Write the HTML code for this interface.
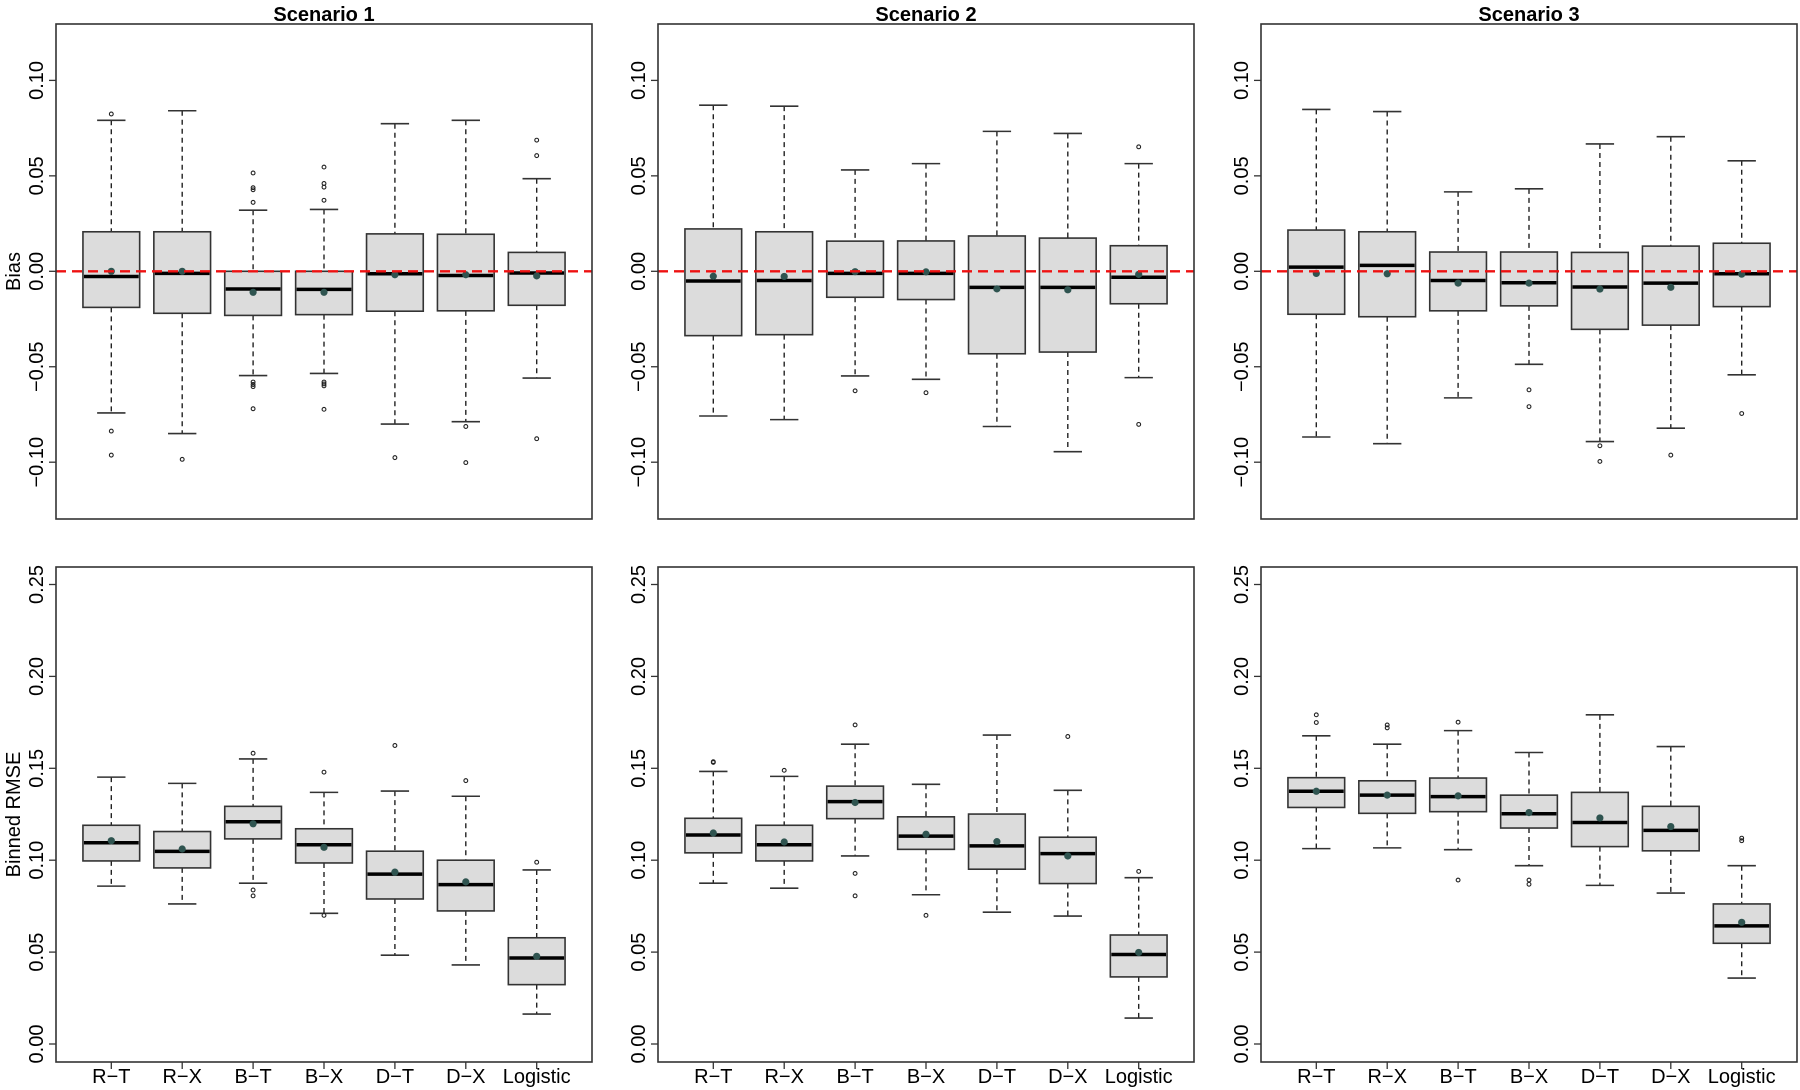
<!DOCTYPE html>
<html><head><meta charset="utf-8">
<style>
html,body{margin:0;padding:0;background:#fff;}
svg{display:block;font-family:"Liberation Sans",Arial,sans-serif;}
</style></head>
<body>
<svg id="chart" width="1800" height="1090" viewBox="0 0 1800 1090" xmlns="http://www.w3.org/2000/svg"></svg>
<script>
const categories = ["R−T","R−X","B−T","B−X","D−T","D−X","Logistic"];
const scenarioTitles = ["Scenario 1","Scenario 2","Scenario 3"];
const biasTicks = [-0.10,-0.05,0.00,0.05,0.10];
const biasTickLabels = ["−0.10","−0.05","0.00","0.05","0.10"];
const rmseTicks = [0.00,0.05,0.10,0.15,0.20,0.25];
const rmseTickLabels = ["0.00","0.05","0.10","0.15","0.20","0.25"];

// Bias, Scenario 1
const bias1Low   = [-0.0742,-0.085,-0.0546,-0.0535,-0.080,-0.0788,-0.0559];
const bias1Q1    = [-0.0189,-0.022,-0.0231,-0.0227,-0.0209,-0.0207,-0.0178];
const bias1Med   = [-0.0027,-0.0011,-0.0093,-0.0095,-0.0013,-0.0022,-0.0009];
const bias1Q3    = [0.0207,0.0207,0.0,0.0,0.0196,0.0194,0.0099];
const bias1High  = [0.0791,0.0841,0.032,0.0324,0.0773,0.0791,0.0485];
const bias1Mean  = [0.0,0.0,-0.011,-0.011,-0.0018,-0.0018,-0.0024];
const bias1Out   = [[0.0824,-0.0837,-0.0963],[-0.0985],[0.0515,0.0438,0.0427,0.0361,-0.058,-0.0593,-0.0604,-0.072],[0.0546,0.046,0.0441,0.0372,-0.058,-0.059,-0.060,-0.0723],[-0.0976],[-0.0813,-0.1002],[0.0687,0.0606,-0.0877]];
// Bias, Scenario 2
const bias2Low   = [-0.0758,-0.0777,-0.0548,-0.0566,-0.0813,-0.0945,-0.0557];
const bias2Q1    = [-0.0337,-0.0332,-0.0136,-0.0148,-0.0432,-0.0423,-0.017];
const bias2Med   = [-0.0051,-0.0048,-0.0011,-0.0011,-0.0084,-0.0084,-0.0031];
const bias2Q3    = [0.0222,0.0207,0.0158,0.0159,0.0185,0.0174,0.0134];
const bias2High  = [0.087,0.0865,0.0531,0.0564,0.0733,0.0722,0.0564];
const bias2Mean  = [-0.0026,-0.0027,-0.0002,-0.0003,-0.0092,-0.0097,-0.0016];
const bias2Out   = [[],[],[-0.0626],[-0.0636],[],[],[0.0652,-0.0802]];
// Bias, Scenario 3
const bias3Low   = [-0.0868,-0.0903,-0.0663,-0.0487,-0.0892,-0.0822,-0.0542];
const bias3Q1    = [-0.0225,-0.0238,-0.0207,-0.0181,-0.0304,-0.0282,-0.0185];
const bias3Med   = [0.0022,0.0031,-0.0048,-0.006,-0.0082,-0.0062,-0.0013];
const bias3Q3    = [0.0216,0.0207,0.0101,0.0101,0.0099,0.0132,0.0147];
const bias3High  = [0.0848,0.0837,0.0416,0.0432,0.0667,0.0705,0.0579];
const bias3Mean  = [-0.0011,-0.0013,-0.0062,-0.0062,-0.0093,-0.0084,-0.0015];
const bias3Out   = [[],[],[],[-0.0621,-0.0709],[-0.0914,-0.0996],[-0.0963],[-0.0745]];
// Binned RMSE, Scenario 1
const rmse1Low   = [0.0859,0.0762,0.0875,0.0711,0.0483,0.043,0.0163];
const rmse1Q1    = [0.0996,0.0958,0.1116,0.0985,0.0789,0.0724,0.0323];
const rmse1Med   = [0.1095,0.1048,0.1209,0.1084,0.0924,0.0867,0.0468];
const rmse1Q3    = [0.119,0.1156,0.1293,0.1171,0.1049,0.1,0.0578];
const rmse1High  = [0.1452,0.1418,0.1551,0.1369,0.1376,0.1348,0.0947];
const rmse1Mean  = [0.1106,0.1061,0.1198,0.107,0.0935,0.0882,0.0477];
const rmse1Out   = [[],[],[0.1582,0.0838,0.0806],[0.1479,0.07],[0.1624],[0.1433],[0.0989]];
// Binned RMSE, Scenario 2
const rmse2Low   = [0.0875,0.0848,0.1023,0.0812,0.0717,0.0696,0.0141];
const rmse2Q1    = [0.104,0.0996,0.1226,0.1059,0.0951,0.0873,0.0365];
const rmse2Med   = [0.1137,0.1084,0.1319,0.1131,0.1078,0.1036,0.0487];
const rmse2Q3    = [0.1228,0.119,0.1403,0.1236,0.1251,0.1125,0.0593];
const rmse2High  = [0.1483,0.1456,0.1631,0.1413,0.1681,0.138,0.0905];
const rmse2Mean  = [0.1148,0.1099,0.1314,0.1141,0.1101,0.1023,0.0498];
const rmse2Out   = [[0.1536,0.1532],[0.1489],[0.1736,0.0928,0.0806],[0.07],[],[0.1673],[0.0939]];
// Binned RMSE, Scenario 3
const rmse3Low   = [0.1063,0.1067,0.1057,0.097,0.0863,0.0821,0.0359];
const rmse3Q1    = [0.1287,0.1255,0.1264,0.1175,0.1074,0.1051,0.0548];
const rmse3Med   = [0.1375,0.1354,0.1346,0.1253,0.1205,0.1162,0.0643];
const rmse3Q3    = [0.1449,0.1432,0.1447,0.1354,0.1369,0.1293,0.0762];
const rmse3High  = [0.1677,0.1631,0.1705,0.1586,0.1791,0.1618,0.097];
const rmse3Mean  = [0.1375,0.1354,0.135,0.1259,0.123,0.1183,0.0662];
const rmse3Out   = [[0.1791,0.1749],[0.1736,0.172],[0.1751,0.0892],[0.0892,0.0869],[],[],[0.112,0.1106]];

const NS = "http://www.w3.org/2000/svg";
const svg = document.getElementById("chart");
function mk(tag, attrs, parent){
  const e = document.createElementNS(NS, tag);
  for (const k in attrs) e.setAttribute(k, attrs[k]);
  (parent||svg).appendChild(e);
  return e;
}
const panelLefts = [56, 658, 1261];
const panelW = 536;
const rows = [
  {top:24, bottom:519, v0:0, p0:271.3, pxPerUnit:1909, ticks:biasTicks, labels:biasTickLabels, title:"Bias", refLine:true,
   sets:[[bias1Low,bias1Q1,bias1Med,bias1Q3,bias1High,bias1Mean,bias1Out],[bias2Low,bias2Q1,bias2Med,bias2Q3,bias2High,bias2Mean,bias2Out],[bias3Low,bias3Q1,bias3Med,bias3Q3,bias3High,bias3Mean,bias3Out]]},
  {top:567, bottom:1062, v0:0, p0:1044, pxPerUnit:1838, ticks:rmseTicks, labels:rmseTickLabels, title:"Binned RMSE", refLine:false,
   sets:[[rmse1Low,rmse1Q1,rmse1Med,rmse1Q3,rmse1High,rmse1Mean,rmse1Out],[rmse2Low,rmse2Q1,rmse2Med,rmse2Q3,rmse2High,rmse2Mean,rmse2Out],[rmse3Low,rmse3Q1,rmse3Med,rmse3Q3,rmse3High,rmse3Mean,rmse3Out]]}
];

rows.forEach((row, ri) => {
  const yScale = v => row.p0 - (v - row.v0) * row.pxPerUnit;
  if (ri === 0) {
    scenarioTitles.forEach((t, pi) => {
      const tt = mk("text", {x: panelLefts[pi] + panelW/2, y: 21, "text-anchor":"middle", "font-size":"20", "font-weight":"bold", fill:"#000"});
      
      
      tt.textContent = t;
    });
  }
  const yt = mk("text", {x: 0, y: 0, "text-anchor":"middle", "font-size":"20", fill:"#000", transform:`translate(20,${(row.top+row.bottom)/2}) rotate(-90)`});
  
  
  yt.textContent = row.title;

  for (let pi = 0; pi < 3; pi++) {
    const L = panelLefts[pi];
    const step = panelW / 7.56;
    const xScale = i => L + (0.78 + i) * step;
    const g = mk("g", {});
    
    
    row.ticks.forEach((tv, ti) => {
      const y = yScale(tv);
      const tk = mk("line", {x1:L-7, x2:L, y1:y, y2:y, stroke:"#333", "stroke-width":"1.3"}, g);
      
      
      const tl = mk("text", {x:0, y:0, "text-anchor":"middle", "font-size":"20", fill:"#000", transform:`translate(${L-13},${y}) rotate(-90)`}, g);
      
      
      tl.textContent = row.labels[ti];
    });
    const [loA, q1A, medA, q3A, hiA, meanA, outs] = row.sets[pi];
    const bw = step * 0.8;
    const cw = bw / 2;
    for (let i = 0; i < 7; i++) {
      const lo = loA[i], q1 = q1A[i], med = medA[i], q3 = q3A[i], hi = hiA[i], mean = meanA[i];
      const cx = xScale(i);
      const bg = mk("g", {}, g);
      
      
      mk("line", {x1:cx, x2:cx, y1:yScale(hi), y2:yScale(q3), stroke:"#222", "stroke-width":"1.4", "stroke-dasharray":"5,4"}, bg);
      mk("line", {x1:cx, x2:cx, y1:yScale(q1), y2:yScale(lo), stroke:"#222", "stroke-width":"1.4", "stroke-dasharray":"5,4"}, bg);
      mk("line", {x1:cx-cw/2, x2:cx+cw/2, y1:yScale(hi), y2:yScale(hi), stroke:"#333", "stroke-width":"1.6"}, bg);
      mk("line", {x1:cx-cw/2, x2:cx+cw/2, y1:yScale(lo), y2:yScale(lo), stroke:"#333", "stroke-width":"1.6"}, bg);
      mk("rect", {x:cx-bw/2, y:yScale(q3), width:bw, height:Math.max(0.5, yScale(q1)-yScale(q3)), fill:"#dcdcdc", stroke:"#333", "stroke-width":"1.6"}, bg);
      mk("line", {x1:cx-bw/2+1, x2:cx+bw/2-1, y1:yScale(med), y2:yScale(med), stroke:"#000", "stroke-width":"3.5"}, bg);
      outs[i].forEach(ov => {
        const oc = mk("circle", {cx:cx, cy:yScale(ov), r:1.9, fill:"none", stroke:"#222", "stroke-width":"1.1"}, bg);
        
        
      });
      const mc = mk("circle", {cx:cx, cy:yScale(mean), r:3.6, fill:"#2f5450"}, bg);
      
      
      if (ri === 1) {
        const xt = mk("line", {x1:cx, x2:cx, y1:row.bottom, y2:row.bottom+7, stroke:"#333", "stroke-width":"1.3"}, g);
        
        
        const xl = mk("text", {x:cx, y:1083, "text-anchor":"middle", "font-size":"20", fill:"#000"}, g);
        
        
        xl.textContent = categories[i];
      }
    }
    if (row.refLine) {
      const rl = mk("line", {x1:L, x2:L+panelW, y1:yScale(0), y2:yScale(0), stroke:"#ee1111", "stroke-width":"2.4", "stroke-dasharray":"10,6"}, g);
      
      
    }
    const fr = mk("rect", {x:L, y:row.top, width:panelW, height:row.bottom-row.top, fill:"none", stroke:"#333", "stroke-width":"1.6"}, g);
    
    
  }
});
</script>
</body></html>
